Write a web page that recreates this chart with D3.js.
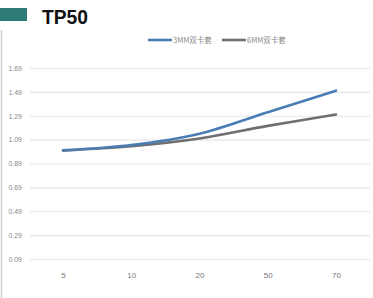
<!DOCTYPE html>
<html><head><meta charset="utf-8">
<script src="https://cdn.jsdelivr.net/npm/d3@7"></script>
<style>body{margin:0;background:#fff}svg{display:block}</style>
</head><body>
<svg id="c" width="373" height="298"></svg>
<script>
const categories = ["5","10","20","50","70"];
const series3mm = [1.00, 1.045, 1.14, 1.32, 1.50];
const series6mm = [1.00, 1.035, 1.10, 1.205, 1.30];
const yTicks = [0.09,0.29,0.49,0.69,0.89,1.09,1.29,1.49,1.69];
const seriesNames = ["3MM双卡套","6MM双卡套"];
const colors = ["#4a7db4","#6f6f72"];

(function(){
const svg = d3.select("#c");
const mLeft = 30, mRight = 370, mTop = 68, mBottom = 259;
const x = d3.scalePoint().domain(categories).range([63, 336]);
const y = d3.scaleLinear().domain([0.09, 1.69]).range([mBottom, mTop]);

svg.append("line").attr("x1",1.5).attr("x2",1.5).attr("y1",30).attr("y2",298)
  .attr("stroke","#cfcfcf").attr("stroke-width",1.5);

svg.append("rect").attr("x",0).attr("y",8).attr("width",27).attr("height",13).attr("fill","#2f7b79");
svg.append("text").attr("x",42).attr("y",24).text("TP50")
  .attr("font-family","Liberation Sans, Arial, sans-serif").attr("font-weight","bold")
  .attr("font-size",21).attr("textLength",46).attr("lengthAdjust","spacingAndGlyphs").attr("fill","#111");

const yAxis = d3.axisLeft(y).tickValues(yTicks).tickFormat(d3.format(".2f"))
  .tickSize(-(mRight-mLeft)).tickPadding(8);
const gy = svg.append("g").attr("transform",`translate(${mLeft},0)`).call(yAxis);
gy.select(".domain").remove();
gy.selectAll(".tick line").attr("stroke","#e6e6e6").attr("stroke-width",1.2);
gy.selectAll(".tick text").attr("fill","#8a8a8a").attr("font-size",7)
  .attr("font-family","Liberation Sans Narrow, Liberation Sans, sans-serif");

const xAxis = d3.axisBottom(x).tickSize(0).tickPadding(13);
const gx = svg.append("g").attr("transform",`translate(0,${mBottom})`).call(xAxis);
gx.select(".domain").remove();
gx.selectAll(".tick text").attr("fill","#777").attr("font-size",8)
  .attr("font-family","Liberation Sans Narrow, Liberation Sans, sans-serif");

const line = d3.line().x((d,i)=>x(categories[i])).y(d=>y(d)).curve(d3.curveCatmullRom.alpha(0.5));
[[series6mm, colors[1]], [series3mm, colors[0]]].forEach(([s,c])=>{
  svg.append("path").datum(s).attr("d",line).attr("fill","none")
    .attr("stroke", c).attr("stroke-width",2.6).attr("stroke-linecap","round");
});

const lg = [{x:148, name:seriesNames[0], c:colors[0]},{x:222, name:seriesNames[1], c:colors[1]}];
lg.forEach(l=>{
  svg.append("line").attr("x1",l.x).attr("x2",l.x+24).attr("y1",40).attr("y2",40)
    .attr("stroke",l.c).attr("stroke-width",2.6);
  svg.append("text").attr("x",l.x+25).attr("y",43).text(l.name)
    .attr("font-size",7.5).attr("fill","#8a8a8a")
    .attr("font-family","Liberation Sans Narrow, Noto Sans CJK SC, sans-serif");
});
})();
</script>
</body></html>
